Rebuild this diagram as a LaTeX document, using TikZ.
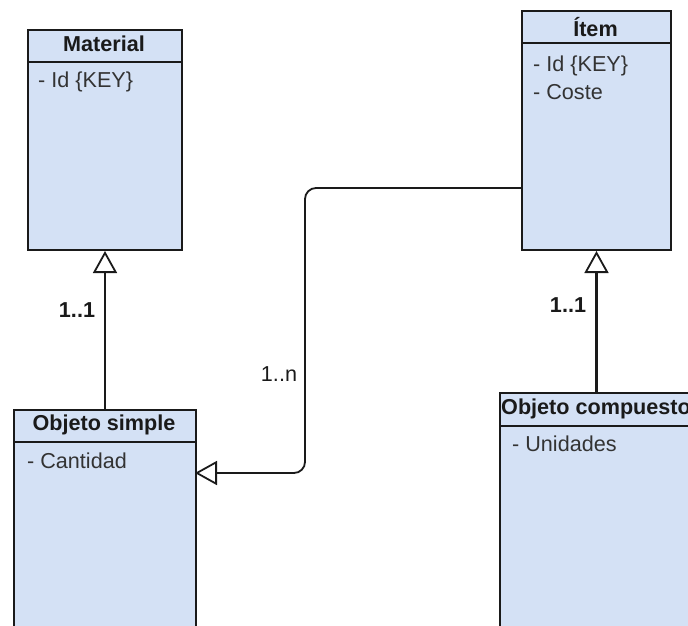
\documentclass[tikz,border=0pt]{standalone}
\usepackage{fontspec}
\setmainfont{Liberation Sans}
\usetikzlibrary{arrows.meta}
\definecolor{classfill}{HTML}{D4E1F5}
\definecolor{ink}{HTML}{1A1A1A}
\definecolor{attr}{HTML}{333333}

\begin{document}
\begin{tikzpicture}[x=1pt,y=-1pt,
  classbox/.style={draw=ink, line width=2pt, fill=classfill, anchor=north west, inner sep=0pt},
  classtitle/.style={font=\bfseries\fontsize{21.6}{25}\selectfont, text=ink, inner sep=0pt},
  attrtext/.style={font=\fontsize{21.6}{25}\selectfont, text=attr, anchor=west, inner sep=0pt},
  mult/.style={font=\fontsize{21.6}{25}\selectfont, text=ink, inner sep=0pt},
  multbold/.style={mult, font=\bfseries\fontsize{21.6}{25}\selectfont},
  gen/.style={-{Triangle[open, length=22pt, width=24pt, fill=white, line width=1.8pt]}, draw=ink}
]
\useasboundingbox (0,0) rectangle (688,625);
\clip (0,0) rectangle (688,625);

% class boxes
\node[classbox, minimum width=154pt, minimum height=220pt] (mat) at (27,29) {};
\node[classbox, minimum width=149pt, minimum height=239pt] (item) at (521,10) {};
\node[classbox, minimum width=182pt, minimum height=250pt] (simple) at (13,409) {};
\node[classbox, minimum width=196pt, minimum height=260pt] (comp) at (499,392) {};

% header separators
\draw[ink, line width=2pt] ([yshift=-33pt]mat.north west) -- ([yshift=-33pt]mat.north east);
\draw[ink, line width=2pt] ([yshift=-33pt]item.north west) -- ([yshift=-33pt]item.north east);
\draw[ink, line width=2pt] ([yshift=-33pt]simple.north west) -- ([yshift=-33pt]simple.north east);
\draw[ink, line width=2pt] ([yshift=-34pt]comp.north west) -- ([yshift=-34pt]comp.north east);

% titles
\node[classtitle] (matT) at (104,44) {Material};
\node[classtitle] (itemT) at (595.5,27) {Ítem};
\node[classtitle] (simpleT) at (104,425) {Objeto simple};
\node[classtitle] (compT) at (596,409) {Objeto compuesto};

% attributes
\node[attrtext] (matA) at (38,82) {- Id \{KEY\}};
\node[attrtext] (itemA) at (533,66) {- Id \{KEY\}};
\node[attrtext] (itemB) at (533,92) {- Coste};
\node[attrtext] (simpleA) at (27,461) {- Cantidad};
\node[attrtext] (compA) at (512,444) {- Unidades};

% connectors
\draw[gen, line width=1.5pt] (simple.north) -- (mat.south);
\draw[gen, line width=2.6pt] (item.south |- comp.north) -- (item.south);
\coordinate (itemPort) at (521,188);
\coordinate (bend) at (305,473);
\coordinate (simplePort) at (195,473);
\draw[gen, line width=1.8pt, rounded corners=11pt] (itemPort) -| (bend) -- (simplePort);

% multiplicities
\node[multbold] (m1) at (77,310) {1..1};
\node[multbold] (m2) at (568,305) {1..1};
\node[mult] (m3) at (279,374) {1..n};
\end{tikzpicture}
\end{document}
